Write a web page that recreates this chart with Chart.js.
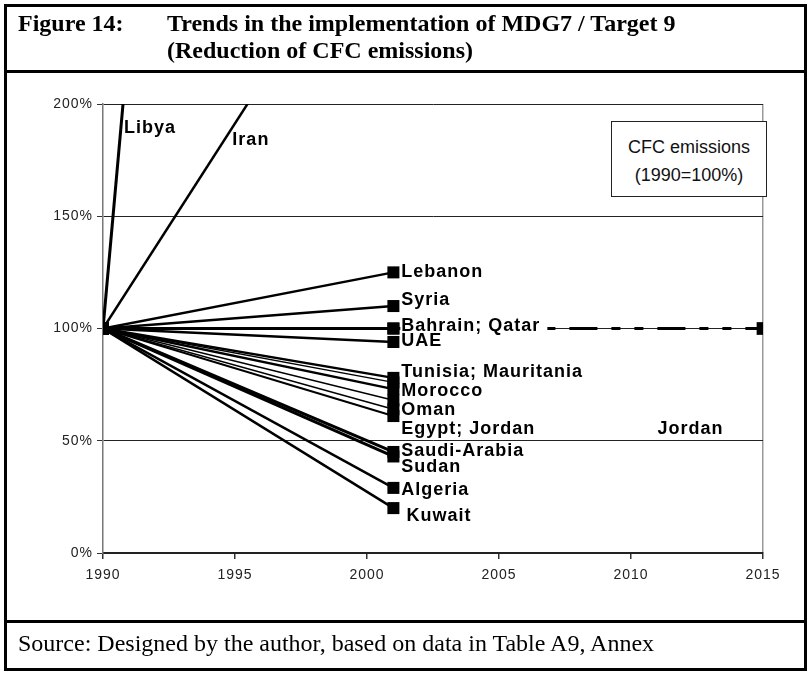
<!DOCTYPE html>
<html>
<head>
<meta charset="utf-8">
<script src="https://cdn.jsdelivr.net/npm/chart.js@4/dist/chart.umd.min.js"></script>
<style>
    body { margin: 0; background: #fff; }
    #page { position: relative; width: 810px; height: 673px; overflow: hidden; }
    .rule { position: absolute; background: #000; }
    .head { position: absolute; font-family: "Liberation Serif", serif; font-weight: bold; font-size: 24px; line-height: 27px; color: #000; }
    #source { position: absolute; left: 18px; top: 630px; font-family: "Liberation Serif", serif; font-size: 24px; color: #000; }
    #legendBox { position: absolute; left: 611px; top: 121px; width: 156px; height: 76px; border: 1.5px solid #222; background: #fff;
        font-family: "Liberation Sans", Arial, sans-serif; font-size: 18px; line-height: 28px; text-align: center; box-sizing: border-box; padding-top: 11px; color: #111; }
    canvas { position: absolute; left: 0; top: 0; }
</style>
</head>
<body>
<div id="page">
    <canvas id="cfcChart" width="810" height="673"></canvas>
    <div class="rule" style="left:4px; top:4px; width:803px; height:3px;"></div>
    <div class="rule" style="left:4px; top:668px; width:803px; height:3px;"></div>
    <div class="rule" style="left:4px; top:4px; width:3px; height:667px;"></div>
    <div class="rule" style="left:804px; top:4px; width:3px; height:667px;"></div>
    <div class="rule" style="left:4px; top:70px; width:803px; height:3px;"></div>
    <div class="rule" style="left:4px; top:620px; width:803px; height:3px;"></div>
    <div class="head" style="left:18px; top:10px;">Figure 14:</div>
    <div class="head" style="left:167px; top:10px;">Trends in the implementation of MDG7 / Target 9<br>(Reduction of CFC emissions)</div>
    <div id="legendBox">CFC emissions<br>(1990=100%)</div>
    <div id="source">Source: Designed by the author, based on data in Table A9, Annex</div>
</div>
<script>
// data (1990 = 100%)
const baseYear = 1990;
const lastYear = 2001;
const countries = ['Libya', 'Iran', 'Lebanon', 'Syria', 'Bahrain', 'Qatar', 'UAE', 'Tunisia', 'Mauritania',
    'Morocco', 'Oman', 'Egypt', 'Jordan', 'Saudi-Arabia', 'Sudan', 'Algeria', 'Kuwait'];
const baseValue = 100;
const values2001 = [1550, 301, 125, 110, 100, 100, 94, 78, 76, 73, 68, 64, 61, 45, 43, 29, 20];

// target line (MDG7): hold at 1990 level until 2015
const targetYears = [2001, 2015];
const targetValues = [100, 100];

const xTicks = [1990, 1995, 2000, 2005, 2010, 2015];
const yTicks = [0, 50, 100, 150, 200];

// text annotations
const labelText = ['Libya', 'Iran', 'Lebanon', 'Syria', 'Bahrain; Qatar', 'UAE', 'Tunisia; Mauritania', 'Morocco',
    'Oman', 'Egypt; Jordan', 'Saudi-Arabia', 'Sudan', 'Algeria', 'Kuwait', 'Jordan'];
const labelYear = [1990.8, 1994.9, 2001.3, 2001.3, 2001.3, 2001.3, 2001.3, 2001.3, 2001.3, 2001.3, 2001.3, 2001.3, 2001.3, 2001.5, 2011.0];
const labelPct = [189.5, 184, 125, 112.5, 101, 94.5, 80.5, 72, 63.5, 55, 45.5, 38.5, 28, 16.5, 55];

const widths = [3, 2.5, 2.5, 2.5, 3, 2.5, 2.5, 2.5, 1.5, 2.5, 1.5, 1.5, 2, 3, 3, 2.5, 2.5];

const datasets = countries.map((c, i) => ({
    label: c,
    data: [{ x: baseYear, y: baseValue }, { x: lastYear, y: values2001[i] }],
    borderColor: '#000',
    backgroundColor: '#000',
    borderWidth: widths[i],
    pointStyle: 'rect',
    pointRadius: 8.5,
    pointBorderWidth: 0,
    tension: 0
}));

datasets.push({
    label: 'Target',
    data: targetYears.map((y, i) => ({ x: y, y: targetValues[i] })),
    borderColor: '#000',
    backgroundColor: '#000',
    borderWidth: 3,
    borderDash: [28, 14, 9, 14, 9, 14],
    pointStyle: 'rect',
    pointRadius: [0, 9],
    pointBorderWidth: 0
});

const labelFont = 'bold 18px "Liberation Sans", Arial, sans-serif';

const textLabels = {
    id: 'textLabels',
    afterDatasetsDraw(chart) {
        const ctx = chart.ctx;
        const xs = chart.scales.x, ys = chart.scales.y;
        ctx.save();
        ctx.font = labelFont;
        ctx.letterSpacing = '1px';
        ctx.textBaseline = 'middle';
        labelText.forEach((t, i) => {
            const px = xs.getPixelForValue(labelYear[i]);
            const py = ys.getPixelForValue(labelPct[i]);
            if (t === 'Bahrain; Qatar') {
                // the label sits on top of the target line
                const w = ctx.measureText(t).width;
                ctx.fillStyle = '#fff';
                ctx.fillRect(px - 1, py - 9, w + 8, 18);
            }
            ctx.fillStyle = '#000';
            ctx.fillText(t, px, py);
        });
        ctx.restore();
    }
};

const tickSpacing = {
    id: 'tickSpacing',
    beforeDraw(chart) { chart.ctx.letterSpacing = '1px'; },
    afterDraw(chart) { chart.ctx.letterSpacing = '0px'; }
};

new Chart(document.getElementById('cfcChart'), {
    type: 'line',
    data: { datasets: datasets },
    options: {
        responsive: false,
        animation: false,
        layout: { padding: { left: 53, right: 47, top: 104, bottom: 80 } },
        plugins: { legend: { display: false }, tooltip: { enabled: false } },
        scales: {
            x: {
                type: 'linear',
                min: 1990,
                max: 2015,
                afterBuildTicks: s => { s.ticks = xTicks.map(v => ({ value: v })); },
                afterFit: s => { s.height = 40; },
                ticks: {
                    callback: v => String(v),
                    color: '#222',
                    font: { family: '"Liberation Sans", Arial, sans-serif', size: 14 },
                    padding: 8,
                    maxRotation: 0
                },
                grid: {
                    drawOnChartArea: true,
                    color: c => (c.tick && c.tick.value === 2015) ? '#999' : 'rgba(0,0,0,0)',
                    tickColor: '#333',
                    tickLength: 6,
                    lineWidth: 1.5
                },
                border: { color: '#222', width: 2 }
            },
            y: {
                min: 0,
                max: 200,
                afterBuildTicks: s => { s.ticks = yTicks.map(v => ({ value: v })); },
                afterFit: s => { s.width = 50; },
                ticks: {
                    callback: v => v + '%',
                    color: '#222',
                    font: { family: '"Liberation Sans", Arial, sans-serif', size: 14 },
                    padding: 4
                },
                grid: {
                    color: c => (c.tick && c.tick.value === 0) ? 'rgba(0,0,0,0)' : '#222',
                    tickColor: '#333',
                    tickLength: 6,
                    lineWidth: 1
                },
                border: { color: '#777', width: 1.5 }
            }
        }
    },
    plugins: [tickSpacing, textLabels]
});
</script>
</body>
</html>
